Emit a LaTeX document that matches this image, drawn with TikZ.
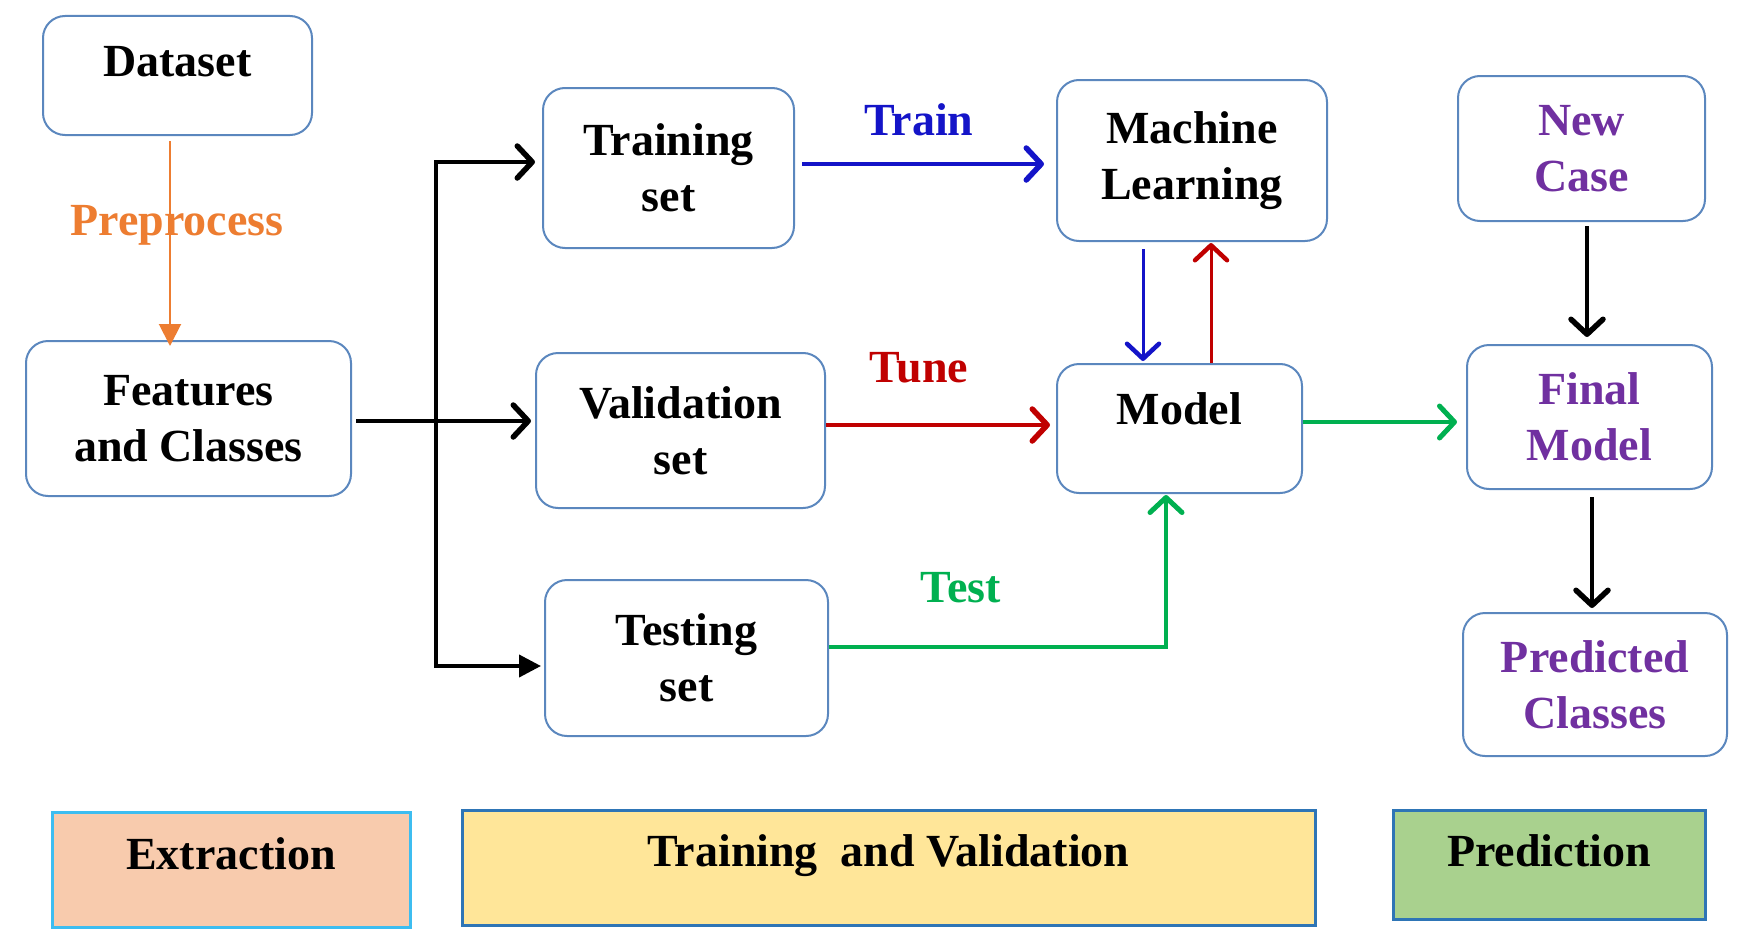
\documentclass[tikz,border=0pt]{standalone}
\usepackage{fontspec}
\setmainfont{Liberation Serif}[BoldFont={Liberation Serif Bold}]
\newfontfamily\tnr{Liberation Serif}[BoldFont={Liberation Serif Bold}]
\usetikzlibrary{arrows.meta,calc}
\definecolor{boxline}{HTML}{5B87BE}
\definecolor{prepc}{HTML}{ED7D31}
\definecolor{trainc}{HTML}{1414C8}
\definecolor{tunec}{HTML}{C00000}
\definecolor{testc}{HTML}{00B050}
\definecolor{purp}{HTML}{7030A0}
\definecolor{extfill}{HTML}{F8CBAD}
\definecolor{extline}{HTML}{3DBDF0}
\definecolor{tvfill}{HTML}{FFE699}
\definecolor{predfill}{HTML}{A9D18E}
\definecolor{bandline}{HTML}{2E75B6}
\begin{document}
\begin{tikzpicture}[x=1pt,y=-1pt,
  every node/.style={font=\tnr\fontsize{46}{56}\selectfont\bfseries},
  box/.style={draw=boxline,line width=2pt,rounded corners=22pt,align=center,inner sep=0pt},
  band/.style={line width=3pt,inner sep=0pt,text height=30pt},
  opentip/.style={-{Straight Barb[length=15pt,width=32pt,line width=1.5pt 1,round]}},
  blk/.style={black,line width=4pt},
  lbl/.style={anchor=base}
]
\useasboundingbox (0,0) rectangle (1747,934);

% boxes
\node[box,minimum width=269pt,minimum height=119pt,text height=30pt,text depth=27pt] (dataset) at (177.5,75.5) {Dataset};
\node[box,minimum width=325pt,minimum height=155pt] (features) at (188.5,418.5) {Features\\and Classes};
\node[box,minimum width=251pt,minimum height=160pt] (training) at (668.5,168) {Training\\set};
\node[box,minimum width=289pt,minimum height=155pt] (validation) at (680.5,430.5) {Validation\\set};
\node[box,minimum width=283pt,minimum height=156pt] (testing) at (686.5,658) {Testing\\set};
\node[box,minimum width=270pt,minimum height=161pt] (ML) at (1192,160.5) {Machine\\Learning};
\node[box,minimum width=245pt,minimum height=129pt,text height=30pt,text depth=39pt] (model) at (1179.5,428.5) {Model};
\node[box,text=purp,minimum width=247pt,minimum height=145pt] (newcase) at (1581.5,148.5) {New\\Case};
\node[box,text=purp,minimum width=245pt,minimum height=144pt] (final) at (1589.5,417) {Final\\Model};
\node[box,text=purp,minimum width=264pt,minimum height=143pt] (predicted) at (1595,684.5) {Predicted\\Classes};

% labels
\node[lbl,text=prepc] (prepL) at (177,235) {Preprocess};
\node[lbl,text=trainc] (trainL) at (919,135) {Train};
\node[lbl,text=tunec] (tuneL) at (919,382) {Tune};
\node[lbl,text=testc] (testL) at (961,602) {Test};

% connectors
\draw[prepc,line width=2pt,-{Triangle[length=22pt,width=22pt]}]
  ([xshift=-7.5pt,yshift=-5pt]dataset.south) -- ([xshift=-18.5pt,yshift=-6pt]features.north);

\coordinate (jt) at (436,162);
\coordinate (jb) at (436,666);
\draw[blk,{Straight Barb[length=15pt,width=32pt,line width=1.5pt 1,round]}-{Triangle[length=22pt,width=22pt]},shorten <=7pt,shorten >=3pt]
  (jt -| training.west) -- (jt) -- (jb) -- (jb -| testing.west);
\draw[blk,opentip,shorten >=4pt]
  ([xshift=4pt,yshift=-2.5pt]features.east) -- ([yshift=-2.5pt]features.east -| validation.west);

\draw[trainc,line width=4pt,opentip,shorten >=12pt]
  ([xshift=7pt,yshift=4pt]training.east) -- ([yshift=4pt]training.east -| ML.west);
\draw[tunec,line width=4pt,opentip,shorten >=6pt]
  ([yshift=5.5pt]validation.east) -- ([yshift=5.5pt]validation.east -| model.west);
\draw[trainc,line width=3pt,opentip,shorten >=2pt]
  ([xshift=-49pt,yshift=-7pt]ML.south) -- ([xshift=-49pt]ML.south |- model.north);
\draw[tunec,line width=3pt,opentip,shorten >=1pt]
  ([xshift=31.5pt]model.north) -- ([xshift=31.5pt]model.north |- ML.south);
\draw[testc,line width=3.5pt,opentip,shorten >=1pt]
  ([yshift=11pt]testing.east) -| ([xshift=-13.5pt]model.south);
\draw[testc,line width=3.5pt,opentip,shorten >=9pt]
  ([yshift=6.5pt]model.east) -- ([yshift=6.5pt]model.east -| final.west);
\draw[blk,opentip,shorten >=7pt]
  ([xshift=5.5pt,yshift=-4pt]newcase.south) -- ([xshift=5.5pt]newcase.south |- final.north);
\draw[blk,opentip,shorten >=4pt]
  ([xshift=2.5pt,yshift=-7pt]final.south) -- ([xshift=2.5pt]final.south |- predicted.north);

% phase bands
\node[band,fill=extfill,draw=extline,minimum width=358pt,minimum height=115pt,text depth=31pt] (extr) at (231,869.5) {Extraction};
\node[band,fill=tvfill,draw=bandline,minimum width=853pt,minimum height=115pt,text depth=32pt] (tv) at (888.5,867.5) {Training\ \ and Validation};
\node[band,fill=predfill,draw=bandline,minimum width=312pt,minimum height=109pt,text depth=26pt] (pred) at (1549,864.5) {Prediction};
\end{tikzpicture}
\end{document}
